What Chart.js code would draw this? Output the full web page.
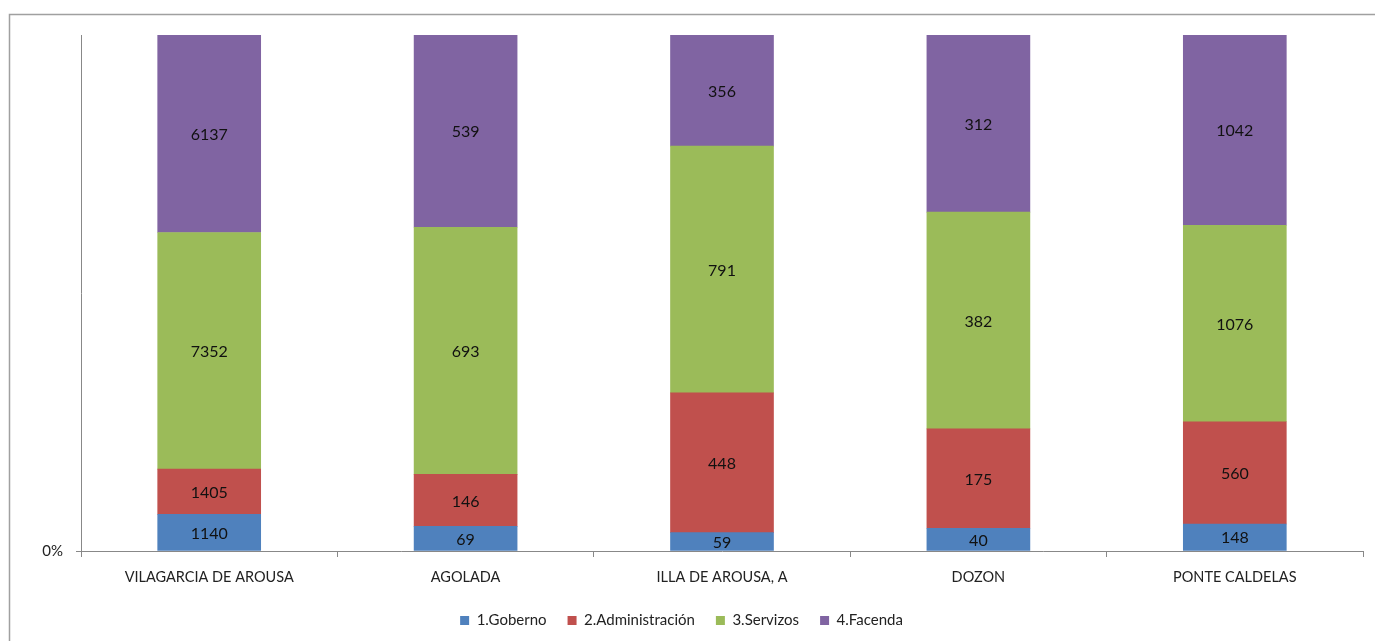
<!DOCTYPE html>
<html>
<head>
<meta charset="utf-8">
<script src="https://cdn.jsdelivr.net/npm/chart.js@4"></script>
<style>
  html, body { margin: 0; padding: 0; background: #fff; }
  #wrap { width: 1375px; height: 641px; }
</style>
</head>
<body>
<div id="wrap"><canvas id="grafico" width="1375" height="641"></canvas></div>
<script>
const concellos = ['VILAGARCIA DE AROUSA', 'AGOLADA', 'ILLA DE AROUSA, A', 'DOZON', 'PONTE CALDELAS'];
const goberno = [1140, 69, 59, 40, 148];
const administracion = [1405, 146, 448, 175, 560];
const servizos = [7352, 693, 791, 382, 1076];
const facenda = [6137, 539, 356, 312, 1042];
const yTicks = ['0%'];

const fonte = 'Lato, "Open Sans", sans-serif';

const series = [
  { label: '1.Goberno', valores: goberno, cor: '#4F81BD' },
  { label: '2.Administración', valores: administracion, cor: '#C0504D' },
  { label: '3.Servizos', valores: servizos, cor: '#9BBB59' },
  { label: '4.Facenda', valores: facenda, cor: '#8064A2' }
];

// totais por concello para o 100% apilado
const totais = concellos.map((_, i) => series.reduce((s, d) => s + d.valores[i], 0));

const datasets = series.map(s => ({
  label: s.label,
  data: s.valores.map((v, i) => v / totais[i] * 100),
  brutos: s.valores,
  backgroundColor: s.cor,
  borderWidth: 0,
  barThickness: 103
}));

// marco gris arredor do gráfico
const marco = {
  id: 'marco',
  beforeDraw(chart) {
    const ctx = chart.ctx;
    ctx.save();
    ctx.strokeStyle = '#a0a0a0';
    ctx.lineWidth = 1.5;
    ctx.strokeRect(9.5, 14.5, 1400, 700);
    ctx.restore();
  }
};

// etiquetas co valor dentro de cada segmento
const etiquetas = {
  id: 'etiquetas',
  afterDatasetsDraw(chart) {
    const ctx = chart.ctx;
    ctx.save();
    ctx.font = '16px ' + fonte;
    ctx.fillStyle = '#111';
    ctx.textAlign = 'center';
    ctx.textBaseline = 'middle';
    chart.data.datasets.forEach((ds, di) => {
      chart.getDatasetMeta(di).data.forEach((bar, i) => {
        const y = (bar.y + bar.base) / 2;
        ctx.fillText(String(ds.brutos[i]), bar.x, y + 1);
      });
    });
    ctx.restore();
  }
};

new Chart(document.getElementById('grafico').getContext('2d'), {
  type: 'bar',
  data: { labels: concellos, datasets: datasets },
  options: {
    responsive: false,
    animation: false,
    layout: { padding: { top: 35, right: 12, left: 0, bottom: 3 } },
    plugins: {
      legend: {
        position: 'bottom',
        labels: {
          boxWidth: 9,
          boxHeight: 9,
          padding: 21,
          color: '#222',
          font: { family: fonte, size: 15 }
        }
      },
      tooltip: { enabled: false }
    },
    scales: {
      x: {
        stacked: true,
        grid: {
          offset: true,
          drawOnChartArea: false,
          drawTicks: true,
          tickLength: 6,
          color: '#888'
        },
        border: { color: '#888', width: 1 },
        ticks: {
          color: '#222',
          padding: 12,
          font: { family: fonte, size: 14.5 }
        },
        afterFit(scale) { scale.height = 41; }
      },
      y: {
        stacked: true,
        min: 0,
        max: 100,
        afterBuildTicks(scale) { scale.ticks = [{ value: 0 }]; },
        grid: {
          drawOnChartArea: false,
          drawTicks: true,
          tickLength: 5,
          color: '#888'
        },
        border: { color: '#888', width: 1 },
        ticks: {
          color: '#222',
          padding: 13,
          font: { family: fonte, size: 15 },
          callback: (v, i) => yTicks[i] || ''
        },
        afterFit(scale) { scale.width = 81; }
      }
    }
  },
  plugins: [marco, etiquetas]
});
</script>
</body>
</html>
